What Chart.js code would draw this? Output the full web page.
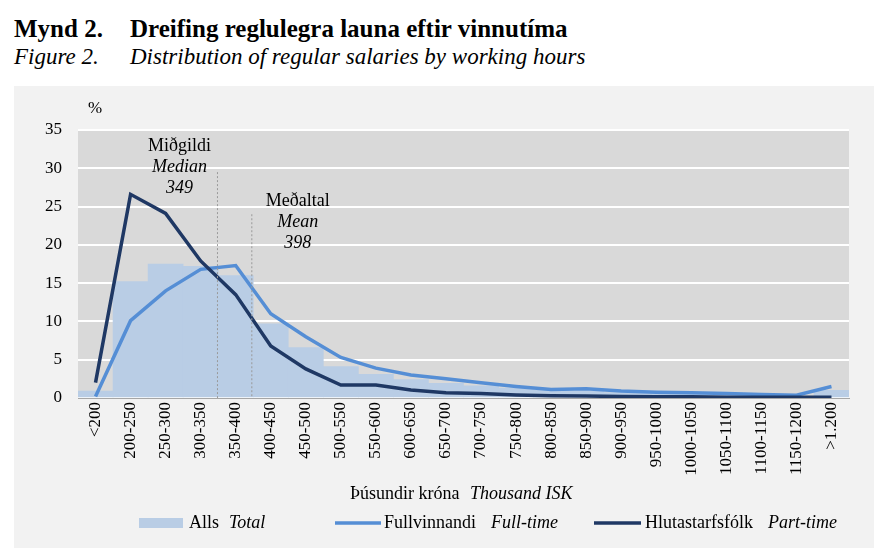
<!DOCTYPE html>
<html>
<head>
<meta charset="utf-8">
<script src="https://cdn.jsdelivr.net/npm/chart.js@4.4.1/dist/chart.umd.min.js"></script>
<style>
  body { margin: 0; background: #fff; width: 894px; height: 554px; position: relative; overflow: hidden; font-family: "Liberation Serif", "Times New Roman", serif; }
  .t { position: absolute; white-space: nowrap; color: #000; line-height: normal; }
  .b { font-weight: bold; font-size: 25px; }
  .i { font-style: italic; font-size: 23px; }
  #panel { position: absolute; left: 14px; top: 86px; width: 860px; height: 462px; background: #F2F2F2; }
  #wrap { position: absolute; left: 0; top: 0; width: 894px; height: 554px; }
</style>
</head>
<body>
<div class="t b" style="left:14px; top:15px;">Mynd 2.</div>
<div class="t b" style="left:130px; top:15px;">Dreifing reglulegra launa eftir vinnutíma</div>
<div class="t i" style="left:14px; top:44px;">Figure 2.</div>
<div class="t i" style="left:130px; top:44px;">Distribution of regular salaries by working hours</div>
<div id="panel"></div>
<div id="wrap"><canvas id="grafik" width="894" height="554"></canvas></div>
<script>
// Flokkar (þúsund kr.)
const flokkar = ["<200", "200-250", "250-300", "300-350", "350-400", "400-450", "450-500", "500-550",
  "550-600", "600-650", "650-700", "700-750", "750-800", "800-850", "850-900", "900-950",
  "950-1000", "1000-1050", "1050-1100", "1100-1150", "1150-1200", ">1.200"];

// Hlutfall (%)
const alls = [0.9, 15.2, 17.5, 17.2, 16.0, 9.7, 6.6, 4.1, 3.1, 2.4, 1.9, 1.6, 1.3, 1.0, 0.9, 0.7,
  0.6, 0.5, 0.4, 0.3, 0.2, 1.0];
const fullvinnandi = [0.2, 10.1, 14.0, 16.8, 17.3, 11.0, 8.0, 5.3, 3.9, 3.0, 2.5, 2.0, 1.5, 1.1, 1.2, 0.9,
  0.75, 0.7, 0.6, 0.45, 0.35, 1.5];
const hlutastarf = [2.0, 26.6, 24.1, 17.9, 13.5, 6.8, 3.8, 1.7, 1.7, 1.05, 0.7, 0.6, 0.4, 0.3, 0.25, 0.2,
  0.15, 0.15, 0.1, 0.1, 0.1, 0.1];

const yTicks = [0, 5, 10, 15, 20, 25, 30, 35];

// Miðgildi og meðaltal
const midgildi = 349;
const medaltal = 398;

const litAlls = "#B9CDE5";
const litFull = "#558ED5";
const litHluta = "#1F3864";
const serif = "'Liberation Serif', 'Times New Roman', serif";

// breyta krónutölu í stöðu á flokkaás
function kronurIStodu(v) {
    return 0.5 + (v - 200) / 50;
}

const bakgrunnur = {
    id: 'bakgrunnur',
    beforeDraw(chart) {
        const { ctx, chartArea: a } = chart;
        ctx.save();
        ctx.fillStyle = "#D9D9D9";
        ctx.fillRect(a.left, a.top, a.right - a.left, a.bottom - a.top);
        ctx.restore();
    }
};

function skrifa(ctx, txt, x, y, skaletur) {
    ctx.font = (skaletur ? "italic " : "") + "18px " + serif;
    ctx.fillText(txt, x, y);
}

const skyringar = {
    id: 'skyringar',
    afterDatasetsDraw(chart) {
        const { ctx, scales: { x, y } } = chart;
        ctx.save();
        // strikalínur
        ctx.strokeStyle = "#9a9a9a";
        ctx.lineWidth = 1;
        ctx.setLineDash([2, 2]);
        const mx = x.getPixelForValue(kronurIStodu(midgildi));
        const ax = x.getPixelForValue(kronurIStodu(medaltal));
        ctx.beginPath();
        ctx.moveTo(mx, y.getPixelForValue(29.5));
        ctx.lineTo(mx, y.getPixelForValue(0));
        ctx.moveTo(ax, y.getPixelForValue(24));
        ctx.lineTo(ax, y.getPixelForValue(0));
        ctx.stroke();
        ctx.setLineDash([]);

        ctx.fillStyle = "#000";
        ctx.textBaseline = 'middle';
        ctx.textAlign = 'center';
        ctx.font = "18px " + serif;
        ctx.fillText("Miðgildi", mx - 38, 146);
        ctx.font = "italic 18px " + serif;
        ctx.fillText("Median", mx - 38, 167);
        ctx.fillText(String(midgildi), mx - 38, 188);
        ctx.font = "18px " + serif;
        ctx.fillText("Meðaltal", ax + 46, 201);
        ctx.font = "italic 18px " + serif;
        ctx.fillText("Mean", ax + 46, 222);
        ctx.fillText(String(medaltal), ax + 46, 243);

        ctx.font = "17px " + serif;
        ctx.fillText("%", 95, 109);

        // ásheiti
        ctx.textAlign = 'left';
        skrifa(ctx, "Þúsundir króna", 350, 494, false);
        skrifa(ctx, "Thousand ISK", 470, 494, true);

        // skýringar
        ctx.fillStyle = litAlls;
        ctx.fillRect(139, 518, 44, 10);
        ctx.fillStyle = "#000";
        skrifa(ctx, "Alls", 189, 523, false);
        skrifa(ctx, "Total", 229, 523, true);

        ctx.lineWidth = 3.5;
        ctx.strokeStyle = litFull;
        ctx.beginPath(); ctx.moveTo(335, 523); ctx.lineTo(381, 523); ctx.stroke();
        skrifa(ctx, "Fullvinnandi", 384, 523, false);
        skrifa(ctx, "Full-time", 491, 523, true);

        ctx.strokeStyle = litHluta;
        ctx.beginPath(); ctx.moveTo(594, 523); ctx.lineTo(641, 523); ctx.stroke();
        skrifa(ctx, "Hlutastarfsfólk", 645, 523, false);
        skrifa(ctx, "Part-time", 768, 523, true);
        ctx.restore();
    }
};

const ctx = document.getElementById('grafik').getContext('2d');
new Chart(ctx, {
    data: {
        labels: flokkar,
        datasets: [
            {
                type: 'line',
                label: 'Fullvinnandi',
                data: fullvinnandi,
                borderColor: litFull,
                borderWidth: 3.5,
                pointRadius: 0,
                tension: 0,
                order: 1
            },
            {
                type: 'line',
                label: 'Hlutastarfsfólk',
                data: hlutastarf,
                borderColor: litHluta,
                borderWidth: 3.5,
                pointRadius: 0,
                tension: 0,
                order: 0
            },
            {
                type: 'bar',
                label: 'Alls',
                data: alls,
                backgroundColor: litAlls,
                barPercentage: 1,
                categoryPercentage: 1,
                order: 2
            }
        ]
    },
    options: {
        responsive: false,
        animation: false,
        layout: { padding: { top: 130, right: 45, left: 0, bottom: 0 } },
        plugins: {
            legend: { display: false },
            tooltip: { enabled: false }
        },
        scales: {
            x: {
                grid: { display: false, drawTicks: false },
                border: { display: true, color: "#A6A6A6", width: 1 },
                ticks: {
                    color: "#000",
                    font: { family: serif, size: 17 },
                    minRotation: 90,
                    maxRotation: 90,
                    autoSkip: false,
                    padding: 4
                },
                afterFit(s) { s.height = 156; }
            },
            y: {
                min: 0,
                max: 35,
                afterBuildTicks(s) { s.ticks = yTicks.map(v => ({ value: v })); },
                grid: { color: "#FFFFFF", lineWidth: 2, drawTicks: false },
                border: { display: false },
                ticks: {
                    color: "#000",
                    font: { family: serif, size: 17 },
                    padding: 16
                },
                afterFit(s) { s.width = 78; }
            }
        }
    },
    plugins: [bakgrunnur, skyringar]
});
</script>
</body>
</html>
